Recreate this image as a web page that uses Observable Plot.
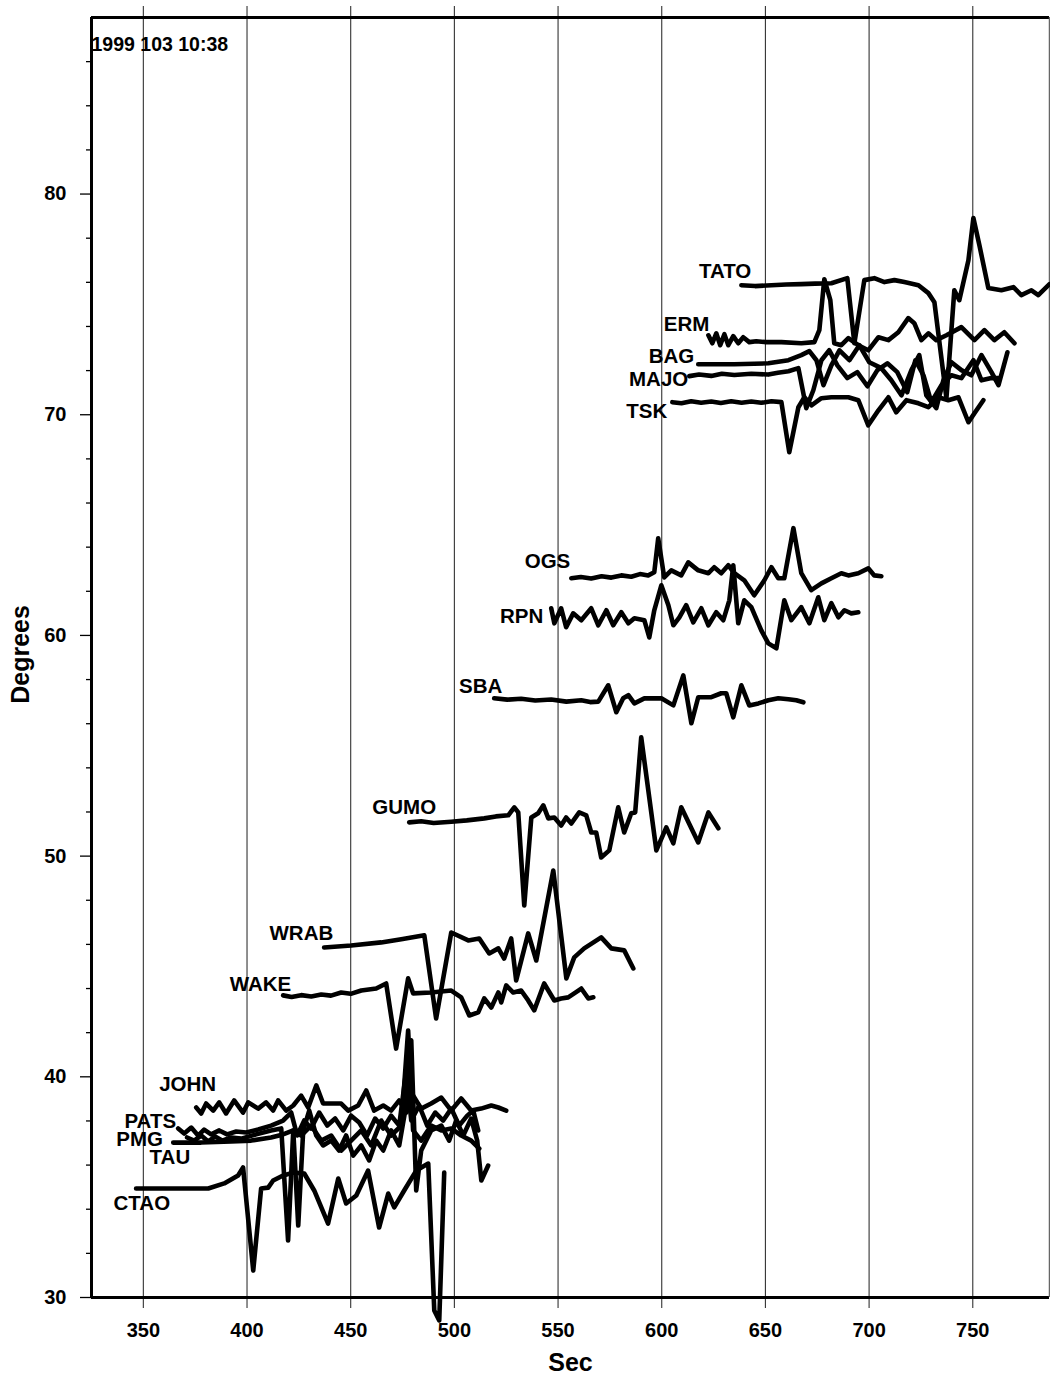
<!DOCTYPE html>
<html><head><meta charset="utf-8">
<script src="https://cdn.jsdelivr.net/npm/d3@7"></script>
<script src="https://cdn.jsdelivr.net/npm/@observablehq/plot@0.6"></script>
<style>body{margin:0;background:#fff} #chart svg{display:block}</style>
</head><body><div id="chart"></div>
<script>
// Axis ticks
const xMajor = [350, 400, 450, 500, 550, 600, 650, 700, 750];
const yMajor = [30, 40, 50, 60, 70, 80];
const yMinor = [32, 34, 36, 38, 42, 44, 46, 48, 52, 54, 56, 58, 62, 64, 66, 68, 72, 74, 76, 78, 82, 84, 86];

// Traces: [time (s), distance (deg)]
const TATO = [[638.4,75.87],[645.0,75.83],[652.9,75.87],[660.0,75.90],[667.3,75.92],[674.0,75.94],[681.8,75.96],[689.5,76.19],[692.9,73.24],[697.7,76.10],[702.5,76.19],[707.4,76.01],[712.2,76.10],[717.0,76.01],[723.8,75.87],[728.6,75.51],[731.5,75.10],[737.3,70.75],[741.1,75.64],[743.5,75.19],[747.9,77.0],[750.3,78.91],[753.2,77.68],[757.5,75.74],[763.8,75.64],[769.6,75.78],[773.4,75.42],[778.3,75.64],[781.6,75.42],[787.0,75.92]];
const ERM = [[622.5,73.60],[624.4,73.24],[626.3,73.69],[628.2,73.15],[630.2,73.65],[632.1,73.15],[634.5,73.56],[636.9,73.24],[639.3,73.51],[642.2,73.29],[645.6,73.33],[650.4,73.29],[657.7,73.29],[667.3,73.24],[673.6,73.29],[676.0,73.83],[678.4,76.14],[681.3,75.19],[683.2,73.24],[686.6,73.15],[690.0,73.47],[694.8,73.15],[699.6,72.92],[704.5,73.51],[709.3,73.38],[714.1,73.74],[718.9,74.38],[721.8,74.15],[725.2,73.38],[728.6,73.69],[732.4,73.38],[737.3,73.60],[744.5,73.97],[750.8,73.38],[755.6,73.83],[760.4,73.38],[765.2,73.74],[770.1,73.24]];
const BAG = [[617.6,72.29],[635.0,72.29],[651.4,72.33],[661.1,72.47],[667.3,72.70],[671.2,72.88],[674.6,72.47],[678.0,71.34],[681.8,72.24],[685.7,72.92],[690.5,72.47],[695.3,73.15],[700.1,72.38],[705.9,72.11],[710.7,71.56],[715.6,70.88],[720.4,72.02],[724.2,72.70],[727.6,70.88],[732.4,70.30],[735.8,71.56],[739.7,72.38],[744.5,72.02],[749.3,71.79],[754.2,72.70],[759.0,71.93],[762.4,71.34],[766.7,72.83]];
const MAJO = [[613.3,71.75],[618.0,71.82],[623.9,71.76],[629.0,71.86],[635.0,71.80],[643.2,71.86],[651.4,71.82],[656.0,71.90],[661.1,71.97],[665.9,72.11],[669.7,70.30],[673.1,71.11],[677.0,72.47],[680.8,72.92],[684.7,72.24],[689.5,71.66],[694.3,71.93],[699.2,71.29],[704.0,72.02],[708.8,72.33],[713.6,71.93],[718.4,71.02],[722.3,72.47],[726.2,71.79],[730.0,70.57],[734.9,71.34],[739.7,71.79],[744.5,71.66],[750.3,72.47],[754.2,71.56],[759.0,71.66],[762.4,71.66]];
const TSK = [[605.1,70.57],[609.5,70.52],[614.2,70.61],[619.0,70.54],[623.9,70.60],[628.5,70.53],[633.5,70.61],[638.5,70.54],[643.2,70.60],[648.0,70.54],[652.9,70.61],[657.7,70.57],[661.5,68.30],[665.9,70.34],[668.8,70.79],[672.2,70.43],[677.0,70.75],[681.8,70.79],[690.0,70.79],[694.8,70.66],[699.6,69.52],[704.5,70.20],[709.3,70.79],[713.1,70.11],[718.0,70.66],[723.8,70.52],[728.6,70.34],[733.4,70.79],[738.2,70.66],[743.1,70.79],[747.9,69.66],[750.8,70.07],[755.1,70.66]];
const OGS = [[556.4,62.59],[561.0,62.65],[566.0,62.58],[571.0,62.68],[575.7,62.62],[580.5,62.72],[585.3,62.66],[589.5,62.78],[593.5,62.72],[596.4,62.86],[598.3,64.40],[601.2,62.63],[604.6,62.95],[609.4,62.72],[612.8,63.31],[617.6,62.95],[622.5,62.82],[625.3,63.09],[628.7,62.82],[632.1,63.18],[635.0,62.82],[639.8,62.50],[644.6,61.82],[649.5,62.50],[652.9,63.09],[656.2,62.59],[659.1,62.59],[663.5,64.86],[667.3,62.82],[672.1,62.05],[677.0,62.36],[681.8,62.59],[686.6,62.82],[690.0,62.72],[694.8,62.82],[699.6,63.04],[702.5,62.72],[705.9,62.68]];
const RPN = [[546.7,61.23],[548.2,60.55],[551.5,61.23],[553.9,60.37],[557.3,61.00],[561.2,60.69],[566.0,61.23],[569.4,60.46],[573.3,61.14],[576.6,60.46],[580.5,61.05],[583.9,60.55],[586.8,60.78],[591.6,60.69],[594.0,59.91],[596.4,61.14],[599.8,62.27],[603.2,61.37],[605.6,60.46],[608.5,60.82],[611.8,61.37],[615.2,60.59],[619.1,61.23],[622.5,60.46],[626.3,61.05],[629.7,60.69],[632.6,61.59],[634.5,63.18],[636.9,60.55],[639.8,61.59],[643.2,61.28],[648.0,60.23],[651.4,59.64],[655.3,59.42],[659.1,61.59],[662.5,60.69],[667.3,61.28],[671.2,60.55],[675.5,61.73],[678.4,60.69],[681.8,61.46],[685.2,60.82],[688.1,61.14],[691.4,61.00],[694.8,61.05]];
const SBA = [[519.2,57.15],[525.5,57.09],[532.2,57.13],[539.0,57.05],[546.7,57.10],[554.0,57.00],[561.2,57.06],[565.5,56.98],[569.4,57.00],[574.2,57.74],[578.1,56.52],[581.4,57.15],[583.9,57.29],[586.8,56.92],[591.6,57.15],[599.8,57.15],[605.6,56.83],[610.4,58.19],[614.3,56.02],[617.6,57.20],[623.9,57.20],[628.7,57.38],[631.1,57.38],[634.5,56.29],[638.4,57.74],[642.2,56.83],[646.6,56.92],[651.4,57.06],[656.2,57.15],[661.1,57.11],[664.9,57.06],[668.3,56.97]];
const GUMO = [[478.2,51.53],[484.0,51.58],[490.0,51.50],[498.5,51.56],[506.0,51.62],[514.4,51.71],[520.0,51.80],[526.0,51.85],[528.9,52.21],[530.8,51.98],[533.7,47.76],[537.1,51.75],[540.4,51.94],[542.9,52.30],[545.3,51.71],[548.2,51.75],[551.5,51.39],[553.9,51.75],[556.4,51.48],[560.2,51.98],[563.6,51.85],[566.0,51.07],[568.4,51.07],[570.8,49.94],[574.7,50.26],[579.0,52.21],[581.9,51.07],[585.3,51.94],[587.2,51.98],[590.1,55.38],[597.4,50.26],[602.2,51.30],[605.6,50.58],[609.4,52.21],[617.6,50.62],[622.5,51.98],[627.3,51.26]];
const WRAB = [[437.2,45.86],[450.2,45.95],[464.7,46.09],[474.4,46.23],[485.5,46.41],[491.2,42.64],[498.5,46.54],[506.7,46.18],[512.0,46.27],[516.8,45.59],[521.2,45.82],[524.0,45.36],[527.4,46.27],[529.8,44.37],[535.6,46.50],[539.5,45.27],[547.7,49.35],[554.0,44.46],[557.8,45.41],[562.6,45.82],[570.8,46.32],[575.7,45.82],[581.9,45.73],[586.3,44.91]];
const WAKE = [[417.4,43.69],[421.5,43.62],[426.1,43.70],[431.0,43.64],[435.8,43.73],[440.5,43.68],[445.4,43.82],[450.0,43.76],[455.1,43.91],[462.3,44.00],[467.1,44.23],[471.9,41.28],[477.7,44.46],[480.1,43.78],[488.8,43.82],[498.5,43.91],[503.3,43.60],[507.2,42.78],[511.5,42.92],[514.4,43.55],[517.8,43.14],[521.2,43.82],[522.6,43.37],[525.0,44.14],[528.4,43.82],[532.2,43.91],[535.6,43.46],[538.5,43.01],[543.3,44.23],[548.2,43.46],[551.5,43.55],[554.9,43.60],[557.8,43.78],[561.2,44.00],[564.6,43.55],[567.0,43.60]];
const JOHN = [[375.5,38.61],[377.9,38.34],[380.3,38.79],[383.7,38.47],[386.6,38.84],[389.9,38.34],[393.8,38.93],[398.1,38.38],[400.6,38.84],[405.4,38.56],[409.2,38.84],[412.6,38.47],[415.0,38.93],[418.9,38.47],[422.3,38.70],[426.1,39.15],[429.5,38.61],[433.4,39.61],[436.7,38.79],[440.6,38.79],[445.4,38.79],[448.8,38.47],[453.6,38.70],[457.5,39.38],[461.3,38.47],[465.7,38.70],[469.5,38.47],[473.4,38.93],[476.8,38.38],[480.1,39.15],[484.0,38.56],[488.8,38.79],[493.7,39.06],[498.5,38.47],[503.3,39.02],[508.1,38.47],[512.9,38.56],[517.8,38.70],[521.2,38.61],[525.0,38.47]];
const PATS = [[366.8,37.66],[369.7,37.43],[373.1,37.70],[376.4,37.34],[379.3,37.61],[382.7,37.39],[386.6,37.57],[390.4,37.39],[394.8,37.52],[399.6,37.48],[405.4,37.61],[411.6,37.79],[417.4,38.02],[421.3,38.38],[424.2,37.34],[427.6,38.02],[430.9,37.66],[434.8,38.38],[438.7,37.79],[442.5,38.11],[446.4,37.57],[450.2,38.24],[454.1,37.93],[457.9,37.34],[461.8,38.11],[465.7,37.66],[469.5,38.24],[473.4,37.79],[476.8,40.29],[479.2,38.02],[483.0,38.70],[486.9,37.79],[490.8,38.38],[494.6,38.02],[498.5,38.56],[502.3,37.79],[506.2,38.24],[509.1,38.47],[511.5,37.57]];
const PMG = [[371.1,37.25],[374.5,37.11],[377.9,37.34],[381.3,37.07],[384.6,37.29],[388.0,37.11],[392.4,37.25],[397.2,37.20],[404.4,37.39],[411.6,37.57],[416.5,37.66],[419.8,32.58],[422.3,37.57],[426.1,37.34],[430.9,37.79],[435.8,37.11],[440.6,37.34],[445.4,36.66],[450.2,37.11],[455.1,37.57],[459.9,36.89],[464.7,38.02],[469.5,37.34],[474.4,37.79],[477.7,42.10],[480.1,37.57],[484.0,37.11],[488.8,37.79],[493.7,37.57],[498.5,37.66],[503.3,37.34],[508.1,37.11],[512.0,36.75]];
const TAU = [[364.4,37.02],[377.9,37.02],[392.4,37.07],[402.0,37.11],[411.6,37.25],[417.4,37.39],[422.3,37.57],[424.7,33.26],[427.1,37.57],[430.0,38.47],[433.4,37.34],[436.7,36.89],[440.6,37.11],[444.4,36.66],[447.8,37.34],[451.2,36.43],[455.1,36.89],[458.9,36.21],[462.3,37.11],[465.7,36.66],[469.5,37.57],[473.4,36.89],[476.3,38.47],[479.2,41.65],[481.6,34.85],[484.0,36.66],[488.8,37.57],[493.7,37.79],[497.5,37.11],[500.9,38.02],[504.3,37.34],[508.1,38.11],[511.0,37.11],[513.0,35.30],[516.3,35.98]];
const CTAO = [[346.5,34.94],[363.4,34.94],[381.3,34.94],[389.0,35.17],[395.7,35.53],[398.1,35.89],[403.0,31.22],[406.8,34.94],[410.2,34.98],[412.6,35.30],[417.4,35.53],[422.3,35.66],[427.6,35.62],[432.4,34.85],[439.1,33.35],[444.0,35.39],[447.8,34.26],[452.7,34.62],[458.4,35.75],[463.7,33.17],[468.1,34.71],[471.0,34.08],[475.8,34.85],[481.6,35.75],[487.4,36.07],[490.3,29.41],[492.7,28.96],[495.1,35.66]];

// Station labels (right end time, distance)
const stationNames = ["TATO","ERM","BAG","MAJO","TSK","OGS","RPN","SBA","GUMO","WRAB","WAKE","JOHN","PATS","PMG","TAU","CTAO"];
const labelT =   [643.2, 623.0, 615.7, 612.8, 602.7, 555.9, 542.9, 523.1, 491.2, 441.6, 421.3, 385.1, 365.8, 359.5, 372.6, 362.9];
const labelDeg = [76.51, 74.10, 72.65, 71.61, 70.16, 63.36, 60.87, 57.69, 52.21, 46.50, 44.18, 39.65, 37.97, 37.16, 36.34, 34.26];
const traceData = [TATO, ERM, BAG, MAJO, TSK, OGS, RPN, SBA, GUMO, WRAB, WAKE, JOHN, PATS, PMG, TAU, CTAO];

const rows = [];
stationNames.forEach((name, i) => traceData[i].forEach(([t, d]) => rows.push({station: name, t, d})));
const labels = stationNames.map((s, i) => ({s, t: labelT[i], d: labelDeg[i]}));

const font = "'Liberation Sans', Arial, Helvetica, sans-serif";
const chart = Plot.plot({
  width: 1050, height: 1374,
  marginLeft: 91, marginRight: 1, marginTop: 17, marginBottom: 77,
  x: {domain: [325, 787], axis: null},
  y: {domain: [30, 88], axis: null},
  style: {fontFamily: font, fontWeight: "bold", background: "white", color: "black", overflow: "visible"},
  marks: [
    Plot.ruleX(xMajor, {x: d => d, insetTop: -11, insetBottom: -11, stroke: "#333", strokeWidth: 1.1}),
    Plot.ruleY(yMinor, {y: d => d, x1: 325, x2: 325, insetLeft: -5, stroke: "black", strokeWidth: 1.3}),
    Plot.ruleY(yMajor, {y: d => d, x1: 325, x2: 325, insetLeft: -11, stroke: "black", strokeWidth: 1.3}),
    Plot.text(yMajor, {x: 325, y: d => d, text: d => String(d), textAnchor: "end", dx: -25, fontSize: 20, fontWeight: "bold"}),
    Plot.text(xMajor, {x: d => d, y: 30, dy: 33, text: d => String(d), fontSize: 20, fontWeight: "bold"}),
    Plot.ruleY([30, 88], {y: d => d, stroke: "black", strokeWidth: 3}),
    Plot.ruleX([325], {x: d => d, stroke: "black", strokeWidth: 3}),
    Plot.ruleX([787], {x: d => d, stroke: "#666", strokeWidth: 1.5}),
    Plot.line(rows, {x: "t", y: "d", z: "station", stroke: "black", strokeWidth: 4.6, strokeLinejoin: "round", strokeLinecap: "round"}),
    Plot.text(labels, {x: "t", y: "d", text: "s", textAnchor: "end", fontSize: 20.5, fontWeight: "bold"}),
    Plot.text(["1999 103 10:38"], {text: d => d, frameAnchor: "top-left", textAnchor: "start", lineAnchor: "middle", dx: 0, dy: 27, fontSize: 19.5, fontWeight: "bold"}),
    Plot.text(["Degrees"], {text: d => d, frameAnchor: "left", textAnchor: "middle", lineAnchor: "middle", dx: -71, dy: -3, rotate: -90, fontSize: 25, fontWeight: "bold"}),
    Plot.text(["Sec"], {text: d => d, frameAnchor: "bottom", textAnchor: "middle", lineAnchor: "middle", dy: 65, fontSize: 25, fontWeight: "bold"})
  ]
});
document.getElementById("chart").appendChild(chart);
</script>
</body></html>
